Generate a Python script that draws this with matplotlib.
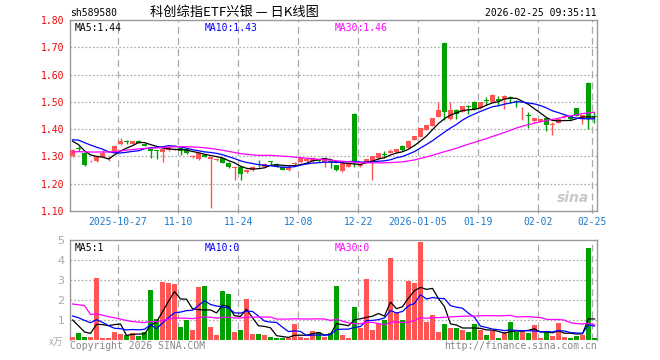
import numpy as np
import pandas as pd
import matplotlib
matplotlib.use('Agg')
import matplotlib.pyplot as plt

# daily candles (price in CNY, volume in 万手)
opens = [1.301, 1.330, 1.313, 1.282, 1.283, 1.299, 1.290, 1.313, 1.344, 1.356,
         1.346, 1.358, 1.346, 1.326, 1.323, 1.316, 1.323, 1.325, 1.332, 1.326,
         1.298, 1.289, 1.306, 1.291, 1.288, 1.293, 1.277, 1.257, 1.262, 1.243,
         1.250, 1.272, 1.262, 1.282, 1.274, 1.262, 1.250, 1.273, 1.279, 1.283,
         1.283, 1.289, 1.280, 1.283, 1.267, 1.246, 1.262, 1.457, 1.265, 1.279,
         1.284, 1.293, 1.308, 1.313, 1.316, 1.340, 1.332, 1.362, 1.372, 1.398,
         1.412, 1.446, 1.716, 1.437, 1.470, 1.463, 1.484, 1.500, 1.477, 1.505,
         1.500, 1.510, 1.510, 1.517, 1.504, 1.469, 1.450, 1.430, 1.430, 1.440,
         1.417, 1.424, 1.445, 1.447, 1.476, 1.439, 1.569, 1.448]
highs = [1.326, 1.337, 1.315, 1.288, 1.301, 1.323, 1.300, 1.342, 1.366, 1.362,
         1.358, 1.362, 1.348, 1.328, 1.324, 1.328, 1.336, 1.330, 1.334, 1.327,
         1.304, 1.313, 1.308, 1.299, 1.293, 1.295, 1.278, 1.262, 1.264, 1.254,
         1.264, 1.287, 1.276, 1.283, 1.276, 1.263, 1.264, 1.278, 1.297, 1.293,
         1.298, 1.291, 1.299, 1.285, 1.269, 1.279, 1.273, 1.459, 1.277, 1.291,
         1.303, 1.313, 1.319, 1.329, 1.328, 1.342, 1.360, 1.376, 1.406, 1.417,
         1.442, 1.500, 1.718, 1.498, 1.472, 1.485, 1.488, 1.502, 1.500, 1.516,
         1.527, 1.522, 1.524, 1.522, 1.506, 1.480, 1.461, 1.442, 1.439, 1.442,
         1.425, 1.441, 1.452, 1.450, 1.478, 1.453, 1.571, 1.463]
lows = [1.298, 1.319, 1.265, 1.278, 1.280, 1.297, 1.283, 1.311, 1.343, 1.344,
        1.344, 1.348, 1.337, 1.293, 1.289, 1.279, 1.321, 1.322, 1.304, 1.309,
        1.295, 1.287, 1.297, 1.112, 1.285, 1.275, 1.258, 1.213, 1.213, 1.240,
        1.248, 1.262, 1.260, 1.267, 1.260, 1.250, 1.248, 1.270, 1.277, 1.281,
        1.281, 1.281, 1.262, 1.258, 1.248, 1.244, 1.260, 1.262, 1.262, 1.277,
        1.213, 1.291, 1.295, 1.311, 1.314, 1.321, 1.330, 1.360, 1.370, 1.396,
        1.410, 1.444, 1.434, 1.435, 1.437, 1.461, 1.455, 1.470, 1.475, 1.488,
        1.498, 1.488, 1.473, 1.495, 1.480, 1.434, 1.406, 1.428, 1.428, 1.394,
        1.378, 1.422, 1.440, 1.435, 1.447, 1.420, 1.400, 1.422]
closes = [1.323, 1.327, 1.267, 1.284, 1.299, 1.311, 1.293, 1.340, 1.356, 1.352,
          1.356, 1.350, 1.340, 1.319, 1.321, 1.326, 1.334, 1.327, 1.319, 1.311,
          1.300, 1.311, 1.299, 1.297, 1.290, 1.277, 1.261, 1.259, 1.234, 1.252,
          1.262, 1.269, 1.274, 1.280, 1.262, 1.252, 1.262, 1.275, 1.295, 1.291,
          1.296, 1.283, 1.293, 1.280, 1.250, 1.277, 1.271, 1.283, 1.270, 1.289,
          1.301, 1.311, 1.306, 1.319, 1.326, 1.323, 1.358, 1.374, 1.404, 1.415,
          1.440, 1.470, 1.463, 1.470, 1.455, 1.483, 1.482, 1.473, 1.498, 1.503,
          1.525, 1.504, 1.522, 1.515, 1.498, 1.471, 1.448, 1.440, 1.437, 1.416,
          1.419, 1.439, 1.447, 1.437, 1.449, 1.451, 1.439, 1.446]
volumes = [0.17, 0.35, 0.15, 0.15, 3.10, 0.10, 0.10, 0.40, 0.30, 0.25,
           0.35, 0.20, 0.40, 2.50, 1.05, 2.90, 2.85, 2.80, 0.65, 1.00,
           0.50, 2.65, 2.70, 0.67, 0.25, 2.45, 2.30, 0.40, 0.50, 2.05,
           0.30, 0.30, 0.25, 0.15, 0.08, 0.08, 0.08, 0.80, 0.15, 0.08,
           0.45, 0.40, 0.15, 0.35, 2.72, 0.23, 0.12, 1.64, 0.60, 3.07,
           0.52, 0.80, 0.98, 4.12, 1.40, 1.02, 2.97, 2.83, 4.92, 0.92,
           1.26, 0.42, 0.82, 0.62, 0.62, 0.52, 0.42, 0.82, 0.52, 0.25,
           0.45, 0.10, 0.40, 0.90, 0.40, 0.40, 0.35, 0.75, 0.10, 0.40,
           0.20, 0.85, 0.15, 0.10, 0.20, 0.25, 4.60, 0.10]

# sessions before the visible window (only feed the moving averages)
pre_closes = [1.28, 1.29, 1.30, 1.30, 1.31, 1.30,
              1.29, 1.28, 1.27, 1.28, 1.29, 1.28, 1.29, 1.30, 1.29, 1.28, 1.30,
              1.30, 1.31, 1.328,
              1.34, 1.36, 1.37, 1.38, 1.38, 1.39, 1.38, 1.36, 1.327]
pre_volumes = [1.5, 1.5, 13.3,
               2.3, 2.0, 2.4, 2.1, 2.2, 2.3, 2.0,
               1.0, 1.1, 0.9, 1.2, 1.0, 1.1, 0.9, 1.0, 1.1, 1.1,
               1.2, 1.5, 1.3, 1.6, 1.4,
               1.8, 1.7, 0.5, 0.83]

tick_pos = [7.6, 17.6, 27.6, 37.6, 47.6, 57.6, 67.6, 77.6, 86.6]
tick_labels = ['2025-10-27', '11-10', '11-24', '12-08', '12-22',
               '2026-01-05', '01-19', '02-02', '02-25']
price_ticks = [1.10, 1.20, 1.30, 1.40, 1.50, 1.60, 1.70, 1.80]
vol_ticks = [1, 2, 3, 4, 5]

RED = '#ff5555'
GREEN = '#00a000'
GRID = '#aaaaaa'
FRAME = '#999999'
MONO = 'DejaVu Sans Mono'
CJK = ['Noto Sans CJK SC', 'DejaVu Sans']

plt.rcParams['lines.scale_dashes'] = False


def ma(pre, vals, n):
    s = pd.Series(list(pre) + list(vals)).rolling(n).mean().values
    return s[len(pre):]


n = len(closes)
x = np.arange(n)
o = np.array(opens)
c = np.array(closes)
up = c >= o
colors = np.where(up, RED, GREEN)

fig = plt.figure(figsize=(6.6, 3.6), dpi=100)
W, H = 660.0, 360.0
ax = fig.add_axes([70 / W, (H - 211) / H, 527 / W, 191 / H])
axv = fig.add_axes([70 / W, (H - 340) / H, 527 / W, 100 / H])

xlim = (-0.42, n - 1 + 0.42)

# ---- price panel
body_lo = np.minimum(o, c)
body_h = np.maximum(np.abs(c - o), 0.0025)
ax.vlines(x, lows, highs, colors=colors, lw=1, zorder=3)
ax.bar(x, body_h, bottom=body_lo, width=0.8, color=colors, lw=0, zorder=4)
ax.plot(x, ma(pre_closes, closes, 5), color='black', lw=0.9, zorder=5)
ax.plot(x, ma(pre_closes, closes, 10), color='#0000ff', lw=0.9, zorder=5)
ax.plot(x, ma(pre_closes, closes, 30), color='#ff00ff', lw=0.9, zorder=5)

ax.set_xlim(*xlim)
ax.set_ylim(1.10, 1.80)
for p in price_ticks[1:-1]:
    ax.axhline(p, color=GRID, lw=0.9, ls=(0, (1.2, 1.5)), zorder=1)
for t in tick_pos:
    ax.axvline(t, color=GRID, lw=0.9, ls=(0, (5, 3)), zorder=1)
ax.set_yticks(price_ticks)
ax.set_yticklabels(['%.2f' % p for p in price_ticks], color='#ee0000',
                   fontsize=7, family=MONO)
ax.set_xticks(tick_pos)
ax.set_xticklabels(tick_labels, color='#1a7acc', fontsize=7, family=MONO)
ax.tick_params(axis='y', length=0, pad=4)
ax.tick_params(axis='x', length=3, direction='inout', color=FRAME, pad=3)

ax.text(0.008, 0.985, 'MA5:1.44', transform=ax.transAxes, fontsize=7,
        family=MONO, color='black', va='top')
ax.text(0.255, 0.985, 'MA10:1.43', transform=ax.transAxes, fontsize=7,
        family=MONO, color='#0000ff', va='top')
ax.text(0.502, 0.985, 'MA30:1.46', transform=ax.transAxes, fontsize=7,
        family=MONO, color='#ff00ff', va='top')
ax.text(0.985, 0.07, 'sina', transform=ax.transAxes, fontsize=10,
        fontweight='bold', style='italic', color='#bbbbbb', alpha=0.8,
        ha='right', va='center', zorder=2)

# ---- volume panel
axv.bar(x, volumes, width=0.8, color=colors, lw=0, zorder=3)
axv.plot(x, ma(pre_volumes, volumes, 5), color='black', lw=0.9, zorder=5)
axv.plot(x, ma(pre_volumes, volumes, 10), color='#0000ff', lw=0.9, zorder=5)
axv.plot(x, ma(pre_volumes, volumes, 30), color='#ff00ff', lw=0.9, zorder=5)
axv.set_xlim(*xlim)
axv.set_ylim(0, 5)
for v in vol_ticks[:-1]:
    axv.axhline(v, color=GRID, lw=0.9, ls=(0, (1.2, 1.5)), zorder=1)
for t in tick_pos:
    axv.axvline(t, color=GRID, lw=0.9, ls=(0, (5, 3)), zorder=1)
axv.set_xticks([])
axv.set_yticks(vol_ticks)
axv.set_yticklabels([str(v) for v in vol_ticks], color='#aaaaaa', fontsize=8)
axv.tick_params(axis='y', length=0, pad=4)
axv.spines['bottom'].set_visible(False)

axv.text(0.008, 0.97, 'MA5:1', transform=axv.transAxes, fontsize=7,
         family=MONO, color='black', va='top')
axv.text(0.255, 0.97, 'MA10:0', transform=axv.transAxes, fontsize=7,
         family=MONO, color='#0000ff', va='top')
axv.text(0.502, 0.97, 'MA30:0', transform=axv.transAxes, fontsize=7,
         family=MONO, color='#ff00ff', va='top')

for a in (ax, axv):
    for s in a.spines.values():
        s.set_color(FRAME)
        s.set_linewidth(1)

# ---- header / footer texts
fig.text(70 / W, 1 - 13 / H, 'sh589580', fontsize=7, family=MONO,
         color='black', va='center')
fig.text(150 / W, 1 - 12 / H, '科创综指ETF兴银 — 日K线图', fontsize=9.5,
         family=CJK, color='black', va='center')
fig.text(597 / W, 1 - 13 / H, '2026-02-25 09:35:11', fontsize=7,
         family=MONO, color='black', va='center', ha='right')
fig.text(63 / W, 1 - 342 / H, 'x万', fontsize=7, family=CJK,
         color='#aaaaaa', va='center', ha='right', style='italic')
fig.text(70 / W, 1 - 346 / H, 'Copyright 2026 SINA.COM', fontsize=7,
         family=MONO, color='#888888', va='center')
fig.text(597 / W, 1 - 346 / H, 'http://finance.sina.com.cn', fontsize=7,
         family=MONO, color='#888888', va='center', ha='right')

fig.savefig('out.png', dpi=100, facecolor='white')
